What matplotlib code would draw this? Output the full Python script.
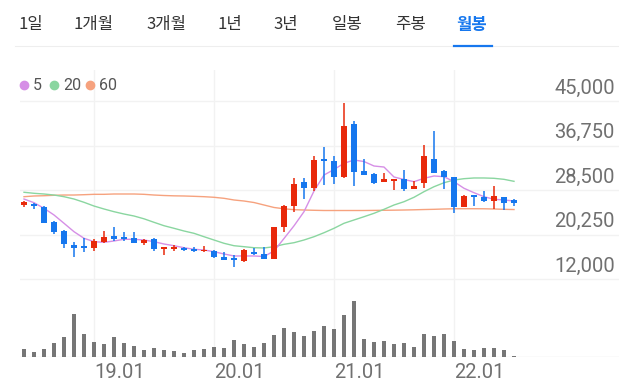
import matplotlib
matplotlib.use("Agg")
import matplotlib.pyplot as plt
import matplotlib.transforms as mtransforms
from matplotlib.lines import Line2D
import numpy as np

# monthly candles, 2018.06 .. 2022.07
start_year, start_month = 2018, 6

opens = [25720, 25900, 25400, 22620, 20950, 18360, 18060, 17690, 18920, 19980,
         19730, 19660, 18620, 19360, 17500, 17560, 17800, 17560, 17190, 17250,
         16020, 15840, 15400, 17060, 16640, 15650, 21580, 25530, 29930, 28930,
         34180, 33940, 30970, 40680, 32020, 31410, 29930, 30170, 30480, 28690,
         29740, 34190, 32020, 30850, 25290, 27520, 27150, 26460, 27150, 26650]
closes = [26280, 25530, 22440, 20770, 18490, 17690, 17690, 19100, 19730, 19470,
          19360, 18620, 19230, 17560, 17930, 17990, 17380, 17190, 17430, 16020,
          15520, 15520, 17380, 16640, 15650, 21580, 25530, 29670, 28930, 34010,
          33820, 30850, 40370, 31780, 31280, 29740, 30540, 30480, 28630, 29240,
          34800, 31720, 30850, 25290, 27390, 27260, 26520, 27450, 26150, 26030]
highs = [26550, 26150, 25530, 22700, 21080, 18800, 19550, 19420, 20950, 21700,
         20660, 20770, 19420, 19550, 17990, 18300, 17990, 17990, 18180, 17380,
         17060, 16450, 17500, 17800, 17870, 21640, 25720, 30670, 30790, 34860,
         36530, 34860, 44570, 41290, 34190, 31600, 31600, 30480, 32210, 30170,
         36840, 39440, 32210, 30850, 27570, 27570, 28320, 29240, 27260, 26780]
lows = [25350, 24920, 22330, 20340, 17690, 16130, 17060, 17190, 18620, 19100,
        19100, 18620, 18250, 17250, 16500, 17190, 17250, 17060, 17060, 15840,
        15520, 14170, 15210, 16450, 15650, 15650, 20770, 24480, 26830, 28370,
        29430, 29560, 30790, 29300, 31280, 29560, 29930, 28500, 28320, 28690,
        28820, 31600, 28690, 24200, 25290, 25530, 26330, 24920, 24790, 25530]

ma5 = [26830, 26150, 25110, 23870, 22330, 20770, 19550, 18920, 18800, 19050,
       19360, 19360, 19230, 18920, 18490, 18170, 17800, 17510, 17380, 17060,
       16640, 16270, 16270, 16270, 16170, 17190, 19510, 21860, 24480, 28310,
       31280, 32300, 33450, 34060, 33780, 32950, 32760, 30910, 30450, 30040,
       30670, 31100, 30970, 30040, 28820, 28000, 27260, 26780, 26650, 26460]
ma20 = [28080, 27890, 27760, 27570, 27260, 26830, 26220, 25530, 24980, 24480,
        24050, 23680, 23160, 22510, 21880, 21400, 20900, 20470, 19840, 19230,
        18620, 18170, 17990, 17800, 17750, 17990, 18430, 18730, 19230, 19840,
        20580, 21400, 22330, 22940, 23550, 24180, 24920, 25720, 26330, 27150,
        28190, 29110, 29850, 30350, 30600, 30730, 30730, 30670, 30480, 30110]
ma60 = [27260, 27390, 27440, 27520, 27570, 27570, 27630, 27700, 27700, 27760,
        27760, 27760, 27700, 27570, 27480, 27420, 27390, 27330, 27260, 27150,
        26960, 26650, 26460, 26180, 25720, 25260, 25020, 24850, 24790, 24740,
        24700, 24700, 24700, 24700, 24700, 24720, 24740, 24760, 24790, 24830,
        24880, 24920, 24980, 25020, 25030, 25030, 25020, 24980, 24920, 24880]

volumes = [770, 530, 830, 1400, 1970, 4300, 2270, 1500, 1270, 1970,
           1430, 1130, 670, 930, 700, 600, 430, 670, 770, 970,
           870, 1670, 1270, 1030, 1400, 2200, 2870, 2470, 2070, 2630,
           3100, 2800, 4170, 5630, 1830, 1470, 1570, 1270, 1400, 970,
           2330, 2070, 2300, 1570, 800, 730, 930, 900, 670, 70]

price_ticks = [12000, 20250, 28500, 36750, 45000]
year_labels = ["19.01", "20.01", "21.01", "22.01"]
tabs = ["1일", "1개월", "3개월", "1년", "3년", "일봉", "주봉", "월봉"]
tab_x = [31, 94, 166, 230, 286, 347, 410, 472]
ma_names = ["5", "20", "60"]

RED = "#e8290b"
BLUE = "#1677ee"
MA_COLORS = ["#d68fe6", "#8ad6a0", "#f6a27e"]
GRID = "#f2f2f2"
W, H = 619, 388


def fx(x):
    return x / W


def fy(y):
    return 1 - y / H


fig = plt.figure(figsize=(W / 100, H / 100), dpi=100)
fig.patch.set_facecolor("white")

# tabs on top
for name, x in zip(tabs, tab_x):
    active = name == "월봉"
    fig.text(fx(x), fy(25), name, ha="center", va="center",
             fontsize=12, family=["Noto Sans CJK KR", "DejaVu Sans"],
             color=BLUE if active else "#333333",
             fontweight="bold" if active else "normal")
fig.add_artist(Line2D([fx(15), 1], [fy(46), fy(46)], color="#eeeeee", lw=0.8,
                      transform=fig.transFigure))
fig.add_artist(Line2D([fx(454), fx(492)], [fy(46), fy(46)], color=BLUE, lw=1.6,
                      transform=fig.transFigure))

# legend
leg_x = [(24, 33), (54, 63), (90, 99)]
for (dx, tx), name, col in zip(leg_x, ma_names, MA_COLORS):
    fig.add_artist(Line2D([fx(dx)], [fy(85)], marker="o", markersize=6,
                          color=col, lw=0, transform=fig.transFigure))
    fig.text(fx(tx), fy(85), name, ha="left", va="center", fontsize=11.5,
             family="Roboto", color="#555555")

n = len(opens)
idx = np.arange(n)
left, right = fx(20), 1.0
ax = fig.add_axes([left, fy(279), right - left, fy(70) - fy(279)])
axv = fig.add_axes([left, fy(357), right - left, fy(279) - fy(357)])

xmin, xmax = -0.4, 59.5
year_idx = [(y - start_year) * 12 + (1 - start_month) for y in range(2019, 2023)]

for a in (ax, axv):
    a.set_xlim(xmin, xmax)
    for s in a.spines.values():
        s.set_visible(False)
    a.set_xticks([])
    a.set_yticks([])
    for xi in year_idx:
        a.axvline(xi, color=GRID, lw=1, zorder=0)

ax.set_ylim(12000, 50750)
for v in price_ticks:
    ax.axhline(v, color=GRID, lw=1, zorder=0)
    tr = mtransforms.offset_copy(ax.get_yaxis_transform(), fig=fig, x=0, y=13, units="dots")
    ax.text(0.9933, v, f"{v:,}", transform=tr, ha="right", va="center",
            fontsize=14.5, family="Roboto", color="#707070")

# moving averages
for vals, col in zip([ma60, ma20, ma5], MA_COLORS[::-1]):
    ax.plot(idx, vals, color=col, lw=1, zorder=2)

# candles
o = np.array(opens)
c = np.array(closes)
colors = [RED if cc > oo else BLUE for oo, cc in zip(o, c)]
ax.vlines(idx, lows, highs, colors=colors, lw=1.1, zorder=3)
bottom = np.minimum(o, c)
height = np.maximum(np.abs(c - o), 180)
ax.bar(idx, height, bottom=bottom, width=0.55, color=colors, zorder=4)

# volume
axv.set_ylim(0, 7800)
axv.axhline(0, color="#e6e6e6", lw=1, zorder=0)
axv.axhline(7800, color=GRID, lw=1, zorder=0)
axv.bar(idx, volumes, width=0.42, color="#767676", zorder=2)
for xi, lab in zip(year_idx, year_labels):
    tr = mtransforms.offset_copy(axv.get_xaxis_transform(), fig=fig, x=0, y=-16, units="dots")
    axv.text(xi, 0, lab, transform=tr, ha="left", va="center", fontsize=14.5,
             family="Roboto", color="#707070")

fig.savefig("out.png", dpi=100)
